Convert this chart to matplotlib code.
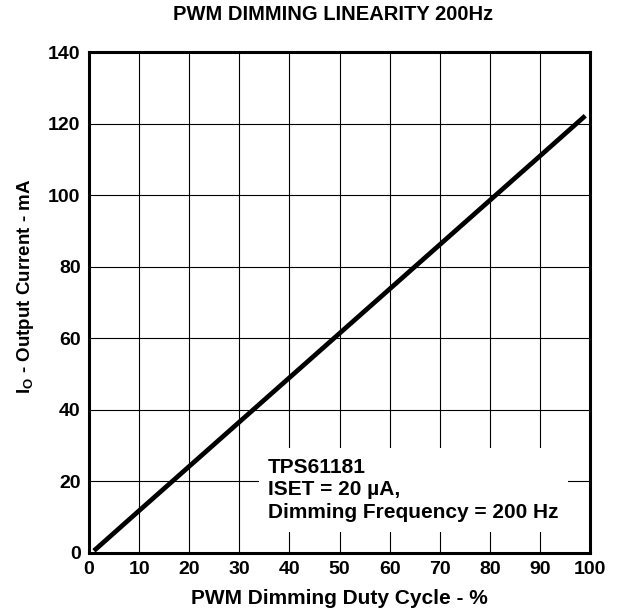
import matplotlib
matplotlib.use("Agg")
import matplotlib.pyplot as plt

plt.rcParams['font.family'] = ['Liberation Sans', 'DejaVu Sans']
plt.rcParams['font.weight'] = 'bold'
plt.rcParams['mathtext.fontset'] = 'custom'
plt.rcParams['mathtext.rm'] = 'Liberation Sans:bold'
plt.rcParams['mathtext.it'] = 'Liberation Sans:bold'
plt.rcParams['mathtext.bf'] = 'Liberation Sans:bold'

# PWM duty cycle (%) and output current (mA)
duty_cycle = [1, 10, 20, 30, 40, 50, 60, 70, 80, 90, 99]
output_current = [0.6, 11.8, 24.2, 36.6, 49.0, 61.4, 73.8, 86.2, 98.6, 111.0, 122.2]

x_ticks = [0, 10, 20, 30, 40, 50, 60, 70, 80, 90, 100]
y_ticks = [0, 20, 40, 60, 80, 100, 120, 140]

fig = plt.figure(figsize=(6.22, 6.13), dpi=100)
ax = fig.add_axes([0.143, 0.098, 0.806, 0.817])

ax.plot(duty_cycle, output_current, color="black", linewidth=3.4,
        solid_capstyle="butt", zorder=3)

ax.set_xlim(0, 100)
ax.set_ylim(0, 140)
ax.set_xticks(x_ticks)
ax.set_yticks(y_ticks)
ax.tick_params(length=0, labelsize=14, pad=6)
for lab in ax.get_xticklabels() + ax.get_yticklabels():
    lab.set_fontweight("bold")

ax.grid(True, color="black", linewidth=0.8)
for s in ax.spines.values():
    s.set_linewidth(2.2)

ax.set_xlabel("PWM Dimming Duty Cycle - %", fontsize=15,
              fontweight="bold", labelpad=8)
ax.set_ylabel("$I_O$ - Output Current - mA", fontsize=13.5,
              fontweight="bold")
ax.yaxis.set_label_coords(-0.106, 0.533)
ax.set_title("PWM DIMMING LINEARITY 200Hz", fontsize=14.5,
             fontweight="bold", pad=23, x=0.486)

# annotation box
ax.text(35.7, 17.6, "TPS61181\nISET = 20 µA,\nDimming Frequency = 200 Hz",
        fontsize=15, fontweight="bold", linespacing=1.25,
        va="center", ha="left", zorder=4,
        bbox=dict(boxstyle="square,pad=0.45", facecolor="white",
                  edgecolor="none"))

fig.savefig("out.png", dpi=100)
